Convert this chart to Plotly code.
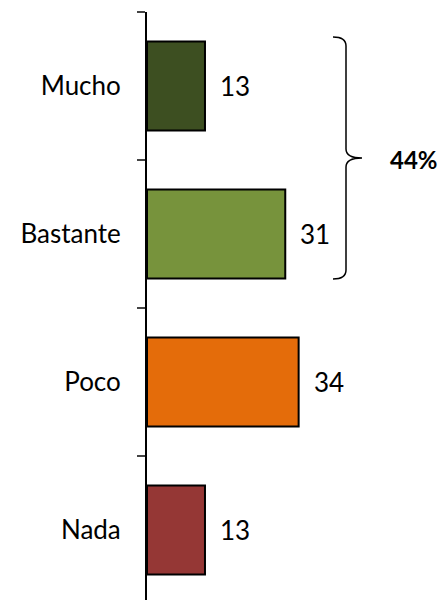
import plotly.graph_objects as go

categories = ["Mucho", "Bastante", "Poco", "Nada"]
values = [13, 31, 34, 13]
colors = ["#3D4F21", "#77933C", "#E46C0A", "#953735"]
group_label = f"{values[0] + values[1]}%"

FONT = "Lato, 'Open Sans', sans-serif"
W, H = 439, 600
ML, MT, MR, MB = 147, 12, 0, 0
PW, PH = W - ML - MR, H - MT - MB

def px(x):  # page pixel -> paper
    return (x - ML) / PW

def py(y):
    return (H - MB - y) / PH

fig = go.Figure()
fig.add_trace(go.Bar(
    x=values, y=categories, orientation="h",
    marker=dict(color=colors, line=dict(color="black", width=2)),
    width=0.6, hoverinfo="skip",
))

for c, v in zip(categories, values):
    fig.add_annotation(x=v, y=c, text=str(v), showarrow=False,
                       xanchor="left", yanchor="middle", xshift=13,
                       font=dict(family=FONT, size=26, color="black"))

# brace
pts = (f"M {px(333)},{py(37)} Q {px(346)},{py(37)} {px(346)},{py(46)} "
       f"L {px(346)},{py(149)} Q {px(346)},{py(158)} {px(362)},{py(158)} "
       f"Q {px(346)},{py(158)} {px(346)},{py(167)} "
       f"L {px(346)},{py(270)} Q {px(346)},{py(279)} {px(333)},{py(279)}")
fig.add_shape(type="path", path=pts, xref="paper", yref="paper",
              line=dict(color="black", width=1.5))
fig.add_annotation(x=px(388), y=py(159), xref="paper", yref="paper",
                   xanchor="left", yanchor="middle",
                   text=f"<b>{group_label}</b>", showarrow=False,
                   font=dict(family=FONT, size=24, color="black"))

# range so each category is 148 px tall
span = PH / 148.0
fig.update_layout(
    width=W, height=H,
    margin=dict(l=ML, r=MR, t=MT, b=MB),
    plot_bgcolor="white", paper_bgcolor="white",
    showlegend=False,
    xaxis=dict(range=[0, PW / 4.46], visible=False),
    yaxis=dict(
        categoryorder="array", categoryarray=categories,
        range=[-0.5 + span, -0.5],
        showline=True, linecolor="black", linewidth=2,
        ticks="outside", tickson="boundaries", ticklen=8,
        tickcolor="#444", tickwidth=1.5,
        ticklabelstandoff=19,
        tickfont=dict(family=FONT, size=26, color="black"),
        showgrid=False, zeroline=False,
    ),
)

fig.write_html(
    "out.html",
    config={"displayModeBar": False},
    post_script="document.body.style.margin='0';document.body.style.overflow='hidden';",
)
